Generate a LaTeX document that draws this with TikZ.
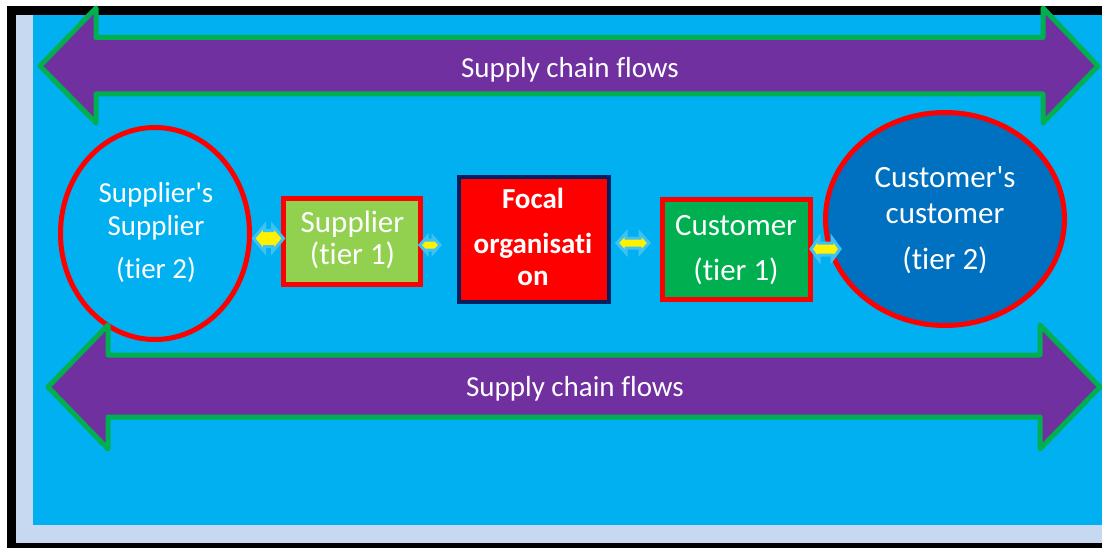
\documentclass[tikz,border=0pt]{standalone}
\usepackage{fontspec}
\setmainfont{Carlito}[Ligatures={NoCommon}]
\usetikzlibrary{shapes.geometric}

\definecolor{frameblack}{HTML}{000000}
\definecolor{shadowband}{HTML}{C6D9F1}
\definecolor{bgblue}{HTML}{00B0F0}
\definecolor{flowpurple}{HTML}{7030A0}
\definecolor{flowgreen}{HTML}{00B050}
\definecolor{tierblue}{HTML}{0070C0}
\definecolor{supgreen}{HTML}{92D050}
\definecolor{cusgreen}{HTML}{00B050}
\definecolor{focalnavy}{HTML}{002060}
\definecolor{linkblue}{HTML}{3CC2F4}

\newcommand\fsz[1]{\fontsize{#1}{#1}\selectfont}

\tikzset{
  flow/.style={fill=flowpurple, draw=flowgreen, line width=5pt, line join=round},
  wtxt/.style={text=white, inner sep=0pt, anchor=base},
  party/.style={ellipse, draw=red, line width=5pt, inner sep=0pt},
  firm/.style={rectangle, draw=red, line width=5pt, inner sep=0pt},
  twoway/.style={fill=yellow, draw=linkblue, line width=3pt, line join=miter},
  % double block arrow: half length, head half height, shaft half height, head length
  pics/dbl/.style n args={4}{code={
    \path[twoway] (-#1,0) -- (-#1+#4,#2) -- (-#1+#4,#3) -- (#1-#4,#3)
      -- (#1-#4,#2) -- (#1,0) -- (#1-#4,-#2) -- (#1-#4,-#3)
      -- (-#1+#4,-#3) -- (-#1+#4,-#2) -- cycle;
  }}
}

\begin{document}
\begin{tikzpicture}[x=1pt, y=-1pt]
\useasboundingbox (0,0) rectangle (1102,548);

% frame, shadow band and canvas
\fill[frameblack] (7,6) rectangle (1102,548);
\fill[shadowband] (16,15) rectangle (1102,543);
\fill[bgblue] (33,15) rectangle (1102,525);

% partners of tier 2
\node[party, fill=bgblue, minimum width=189pt, minimum height=212pt] (ss) at (155,233.5) {};
\node[party, fill=tierblue, minimum width=239pt, minimum height=213pt] (cc) at (945,219) {};

% flows along the chain
\path[flow] (40,66) -- (96,8) -- (96,37.5) -- (1043,37.5) -- (1043,8) -- (1098,66)
  -- (1043,123) -- (1043,94) -- (96,94) -- (96,123) -- cycle;
\path[flow] (48,387) -- (108,325) -- (108,355) -- (1040,355) -- (1040,325) -- (1100,387)
  -- (1040,449) -- (1040,417) -- (108,417) -- (108,449) -- cycle;
\node[wtxt, font=\fsz{29}] (flowtop) at (570,78) {Supply chain flows};
\node[wtxt, font=\fsz{29}] (flowbot) at (575,396) {Supply chain flows};

% tier 1 partners and the focal firm
\node[firm, fill=supgreen, minimum width=137pt, minimum height=86pt] (sup) at (352,241.5) {};
\node[firm, fill=cusgreen, minimum width=148pt, minimum height=100pt] (cus) at (736.5,249.5) {};
\node[rectangle, draw=focalnavy, fill=red, line width=4pt, inner sep=0pt,
      minimum width=150pt, minimum height=125pt] (focal) at (534,239.5) {};

% labels
\node[wtxt, font=\fsz{29}] (ss1) at (156,203) {Supplier\textquotesingle s};
\node[wtxt, font=\fsz{29}] (ss2) at (156,235) {Supplier};
\node[wtxt, font=\fsz{29}] (ss3) at (156,278) {(tier 2)};

\node[wtxt, font=\fsz{31}] (cc1) at (945,187) {Customer\textquotesingle s};
\node[wtxt, font=\fsz{31}] (cc2) at (945,223) {customer};
\node[wtxt, font=\fsz{31}] (cc3) at (945,269) {(tier 2)};

\node[wtxt, font=\fsz{31}] (sup1) at (352.5,232) {Supplier};
\node[wtxt, font=\fsz{31}] (sup2) at (352.5,264) {(tier 1)};

\node[wtxt, font=\fsz{31}] (cus1) at (736,235) {Customer};
\node[wtxt, font=\fsz{31}] (cus2) at (736,280) {(tier 1)};

\node[wtxt, font=\bfseries\fsz{29}] (f1) at (533,208) {Focal};
\node[wtxt, font=\bfseries\fsz{29}] (f2) at (533,253) {organisati};
\node[wtxt, font=\bfseries\fsz{29}] (f3) at (533,285) {on};

% two-way links between neighbours
\pic (l1) at (268.5,238.5) {dbl={15}{13}{8}{11}};
\pic (l2) at (430,245) {dbl={10}{8}{5}{7}};
\pic (l3) at (633,243) {dbl={16}{10}{5}{9}};
\pic (l4) at (825.5,249) {dbl={14.5}{11}{6}{8}};
\end{tikzpicture}
\end{document}
